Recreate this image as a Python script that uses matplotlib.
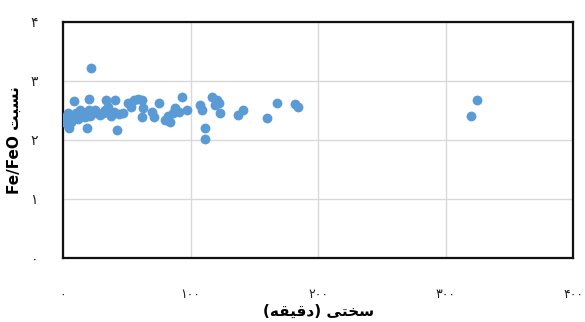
import numpy as np
import matplotlib
matplotlib.use('Agg')
import matplotlib.pyplot as plt

# hardness (minutes) vs Fe/FeO ratio
hardness = [0, 1, 2, 3, 4, 4, 5, 6, 7, 8, 9, 10, 11, 12, 13, 15, 16, 17, 18.5,
            20, 20, 21, 22, 23, 25, 27, 29, 31, 33, 34, 35, 36, 38, 40, 41, 42,
            44, 47, 51, 53, 56, 59, 62, 63, 62, 70, 71, 75, 80, 82, 84, 86.5,
            88, 93, 97, 91, 107.5, 109, 111, 111, 116.5, 120.5, 119, 122, 123,
            137.5, 141, 160, 168, 182, 184, 320, 324.5]
ratio = [2.37, 2.30, 2.34, 2.40, 2.45, 2.25, 2.21, 2.30, 2.34, 2.40, 2.66,
         2.45, 2.42, 2.35, 2.50, 2.48, 2.40, 2.39, 2.20, 2.69, 2.50, 2.40,
         3.22, 2.45, 2.50, 2.46, 2.42, 2.45, 2.50, 2.68, 2.55, 2.45, 2.40,
         2.48, 2.68, 2.17, 2.44, 2.45, 2.62, 2.55, 2.68, 2.70, 2.68, 2.54,
         2.39, 2.48, 2.39, 2.62, 2.34, 2.40, 2.31, 2.45, 2.54, 2.73, 2.51,
         2.47, 2.59, 2.51, 2.20, 2.01, 2.73, 2.68, 2.59, 2.62, 2.45, 2.42,
         2.51, 2.37, 2.62, 2.61, 2.55, 2.40, 2.67]
x_ticks = [0, 100, 200, 300, 400]
y_ticks = [0, 1, 2, 3, 4]

# presentation forms: isolated, final, initial, medial
FORMS = {
    'س': ('\uFEB1', '\uFEB2', '\uFEB3', '\uFEB4'),
    'خ': ('\uFEA5', '\uFEA6', '\uFEA7', '\uFEA8'),
    'ت': ('\uFE95', '\uFE96', '\uFE97', '\uFE98'),
    'ی': ('\uFBFC', '\uFBFD', '\uFBFE', '\uFBFF'),
    'ق': ('\uFED5', '\uFED6', '\uFED7', '\uFED8'),
    'ه': ('\uFEE9', '\uFEEA', '\uFEEB', '\uFEEC'),
    'ن': ('\uFEE5', '\uFEE6', '\uFEE7', '\uFEE8'),
    'ب': ('\uFE8F', '\uFE90', '\uFE91', '\uFE92'),
    'د': ('\uFEA9', '\uFEAA', None, None),
}


def shape(text):
    # join letters and flip to visual order (no bidi lib available)
    out = []
    for i, c in enumerate(text):
        if c not in FORMS:
            out.append(c)
            continue
        prev = text[i - 1] if i > 0 else ''
        nxt = text[i + 1] if i + 1 < len(text) else ''
        join_prev = prev in FORMS and FORMS[prev][2] is not None
        join_next = nxt in FORMS and FORMS[c][2] is not None
        iso, fin, ini, med = FORMS[c]
        if join_prev and join_next:
            out.append(med)
        elif join_prev:
            out.append(fin)
        elif join_next:
            out.append(ini)
        else:
            out.append(iso)
    mirror = {'(': ')', ')': '('}
    return ''.join(mirror.get(c, c) for c in reversed(out))


def fa_digits(n):
    return str(n).translate(str.maketrans('0123456789', '۰۱۲۳۴۵۶۷۸۹'))


plt.rcParams['font.family'] = ['DejaVu Sans']

fig = plt.figure(figsize=(5.85, 3.22), dpi=100)
ax = fig.add_axes([0.1077, 0.199, 0.872, 0.733])

ax.scatter(hardness, ratio, s=50, color='#5B9BD5', zorder=3, linewidths=0)

ax.set_xlim(0, 400)
ax.set_ylim(0, 4)
ax.set_xticks(x_ticks)
ax.set_yticks(y_ticks)
ax.set_xticklabels([fa_digits(v) for v in x_ticks], fontsize=9, color='#222222')
ax.set_yticklabels([fa_digits(v) for v in y_ticks], fontsize=10, color='#222222')
ax.tick_params(axis='x', length=0, pad=22)
ax.tick_params(axis='y', length=0, pad=18)
ax.grid(True, color='#d9d9d9', linewidth=1)
ax.set_axisbelow(True)
for sp in ax.spines.values():
    sp.set_color('#111111')
    sp.set_linewidth(1.6)

ax.set_xlabel(shape('سختی (دقیقه)'), fontsize=11, fontweight='bold', labelpad=2)
ax.set_ylabel('Fe/FeO ' + shape('نسبت'), fontsize=11, fontweight='bold', labelpad=6)

fig.savefig('out.png', dpi=100)
